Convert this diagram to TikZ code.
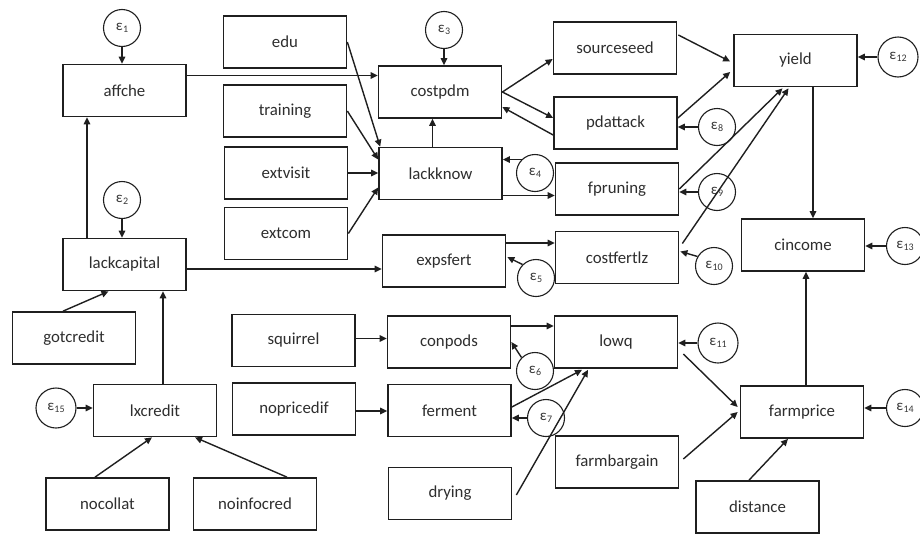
\documentclass[tikz,border=0pt]{standalone}
\usepackage{fontspec}
\setmainfont{Carlito}
\usetikzlibrary{arrows.meta,calc}
\newcommand\errlab[1]{{\fontsize{15}{15}\selectfont ε\kern0.3pt\raisebox{-2.5pt}{\fontsize{10}{10}\selectfont #1}}}
\begin{document}
\begin{tikzpicture}[x=1pt,y=-1pt,
  box/.style={draw=black!88, line width=1.7pt, minimum width=123pt, minimum height=52pt, inner sep=0pt, font=\fontsize{16.8}{19}\selectfont, text=black!82},
  err/.style={draw=black!88, line width=1.1pt, circle, minimum size=37pt, inner sep=0pt, text=black!78},
  arr/.style={draw=black!88, line width=1.4pt, -{Triangle[length=7pt,width=6.5pt]}},
]
\useasboundingbox[fill=white] (0,0) rectangle (920,533);
% boxes
\node[box] (affche) at (124.5,90.5) {affche};
\node[box] (edu) at (285,42) {edu};
\node[box] (training) at (285,111) {training};
\node[box] (extvisit) at (286,173) {extvisit};
\node[box] (extcom) at (286,233.5) {extcom};
\node[box] (lackcapital) at (124.5,264.5) {lackcapital};
\node[box] (gotcredit) at (74,338) {gotcredit};
\node[box] (lxcredit) at (155,410.5) {lxcredit};
\node[box] (nocollat) at (107.5,504) {nocollat};
\node[box] (noinfocred) at (255,504) {noinfocred};
\node[box] (squirrel) at (293.5,340.5) {squirrel};
\node[box] (nopricedif) at (294,409) {nopricedif};
\node[box] (costpdm) at (440,92) {costpdm};
\node[box] (lackknow) at (440.5,173.5) {lackknow};
\node[box] (expsfert) at (444,261) {expsfert};
\node[box] (conpods) at (449,342) {conpods};
\node[box] (ferment) at (449.5,410.5) {ferment};
\node[box] (drying) at (450,493.5) {drying};
\node[box] (sourceseed) at (615,48) {sourceseed};
\node[box] (pdattack) at (615.5,123) {pdattack};
\node[box] (fpruning) at (617,189) {fpruning};
\node[box] (costfertlz) at (617,257.5) {costfertlz};
\node[box] (lowq) at (616,342) {lowq};
\node[box] (farmbargain) at (617,462) {farmbargain};
\node[box] (yield) at (795.5,60.5) {yield};
\node[box] (cincome) at (803,245) {cincome};
\node[box] (farmprice) at (802,412) {farmprice};
\node[box] (distance) at (757.5,507) {distance};
% error circles
\node[err] (e1) at (122,28) {\errlab{1}};
\node[err] (e2) at (122,200) {\errlab{2}};
\node[err] (e3) at (444,30) {\errlab{3}};
\node[err] (e4) at (535,173) {\errlab{4}};
\node[err] (e5) at (536,278) {\errlab{5}};
\node[err] (e6) at (535,371) {\errlab{6}};
\node[err] (e7) at (546,418) {\errlab{7}};
\node[err] (e8) at (717,127) {\errlab{8}};
\node[err] (e9) at (717,192) {\errlab{9}};
\node[err] (e10) at (714,266) {\errlab{10}};
\node[err, minimum size=40pt] (e11) at (718,343) {\errlab{11}};
\node[err, minimum size=40pt] (e12) at (898,57) {\errlab{12}};
\node[err] (e13) at (905,246) {\errlab{13}};
\node[err] (e14) at (905,408) {\errlab{14}};
\node[err, minimum size=40pt] (e15) at (56,408) {\errlab{15}};
% error arrows
\draw[arr] (e1) -- (e1 |- affche.north);
\draw[arr] (e2) -- (e2 |- lackcapital.north);
\draw[arr] (e3) -- (e3 |- costpdm.north);
\draw[arr] (e4.135) -- (e4.135 -| lackknow.east);
\draw[arr] (e5.135) -- ($(expsfert.east)+(1,-4)$);
\draw[arr] (e6.135) -- (conpods.east);
\draw[arr] (e7.west) -- (e7 -| ferment.east);
\draw[arr] (e8.west) -- (e8 -| pdattack.east);
\draw[arr] (e9.west) -- (e9 -| fpruning.east);
\draw[arr] (e10.150) -- ($(costfertlz.east)+(1,-6)$);
\draw[arr] (e11.west) -- (e11 -| lowq.east);
\draw[arr] (e12.west) -- (e12 -| yield.east);
\draw[arr] (e13.west) -- (e13 -| cincome.east);
\draw[arr] (e14.west) -- (e14 -| farmprice.east);
\draw[arr] (e15.east) -- (e15 -| lxcredit.west);
% left part
\coordinate (a1) at ($(affche.east)+(0,-15)$);
\draw[arr] (a1) -- (a1 -| costpdm.west);
\coordinate (a2) at ($(lackcapital.north)+(-37.5,0)$);
\draw[arr] (a2) -- (a2 |- affche.south);
\coordinate (a3) at ($(lackcapital.east)+(0,4.5)$);
\draw[arr] (a3) -- (a3 -| expsfert.west);
\draw[arr] ($(gotcredit.north)+(-11,0)$) -- ($(lackcapital.south)+(-16,0)$);
\coordinate (a4) at ($(lxcredit.north)+(8,0)$);
\draw[arr] (a4) -- (a4 |- lackcapital.south);
\draw[arr] ($(nocollat.north)+(-12.5,0)$) -- ($(lxcredit.south)+(-3,0)$);
\draw[arr] ($(noinfocred.north)+(32,0)$) -- ($(lxcredit.south)+(40,0)$);
% knowledge block
\draw[arr] (edu.east) -- ($(lackknow.north west)+(2,0)$);
\draw[arr] (training.east) -- ($(lackknow.west)+(0,-14)$);
\draw[arr] (extvisit.east) -- (extvisit.east -| lackknow.west);
\draw[arr] (extcom.east) -- ($(lackknow.west)+(0,14)$);
\coordinate (a5) at ($(lackknow.north)+(-8,0)$);
\draw[arr] (a5) -- (a5 |- costpdm.south);
\coordinate (a6) at ($(lackknow.east)+(0,22)$);
\draw[arr] (a6) -- (a6 -| fpruning.west);
\draw[arr] (costpdm.east) -- ($(sourceseed.west)+(0,11)$);
\draw[arr] (costpdm.east) -- ($(pdattack.west)+(0,-5)$);
\draw[arr] ($(pdattack.west)+(0,12)$) -- ($(costpdm.east)+(0,15)$);
\coordinate (a7) at ($(expsfert.east)+(0,-18)$);
\draw[arr] (a7) -- (a7 -| costfertlz.west);
% yield
\draw[arr] ($(sourceseed.east)+(1,-13)$) -- ($(yield.west)+(-3,1)$);
\draw[arr] ($(pdattack.east)+(0,-5)$) -- ($(yield.west)+(-3,11.5)$);
\draw[arr] (fpruning.east) -- ($(yield.south)+(-13,1)$);
\draw[arr] ($(costfertlz.east)+(3,-14)$) -- ($(yield.south)+(-7,1)$);
\coordinate (a8) at ($(yield.south)+(17.5,0)$);
\draw[arr] (a8) -- (a8 |- cincome.north);
\coordinate (a9) at ($(farmprice.north)+(4,0)$);
\draw[arr] (a9) -- (a9 |- cincome.south);
% quality block
\coordinate (a10) at ($(squirrel.east)+(0,-2)$);
\draw[arr] (a10) -- (a10 -| conpods.west);
\coordinate (a11) at ($(nopricedif.east)+(0,2)$);
\draw[arr] (a11) -- (a11 -| ferment.west);
\coordinate (a12) at ($(conpods.east)+(0,-16)$);
\draw[arr] (a12) -- (a12 -| lowq.west);
\draw[arr] ($(ferment.east)+(0,-3.5)$) -- ($(lowq.south)+(-34,1)$);
\draw[arr] ($(drying.east)+(4,1.5)$) -- ($(lowq.south)+(-28,1)$);
\draw[arr] ($(lowq.east)+(5,12)$) -- ($(farmprice.west)+(-2,-5)$);
\draw[arr] ($(farmbargain.east)+(4,-3)$) -- ($(farmprice.west)+(-2,0)$);
\draw[arr] ($(distance.north)+(-8.5,0)$) -- ($(farmprice.south)+(-14,0)$);
\end{tikzpicture}
\end{document}
